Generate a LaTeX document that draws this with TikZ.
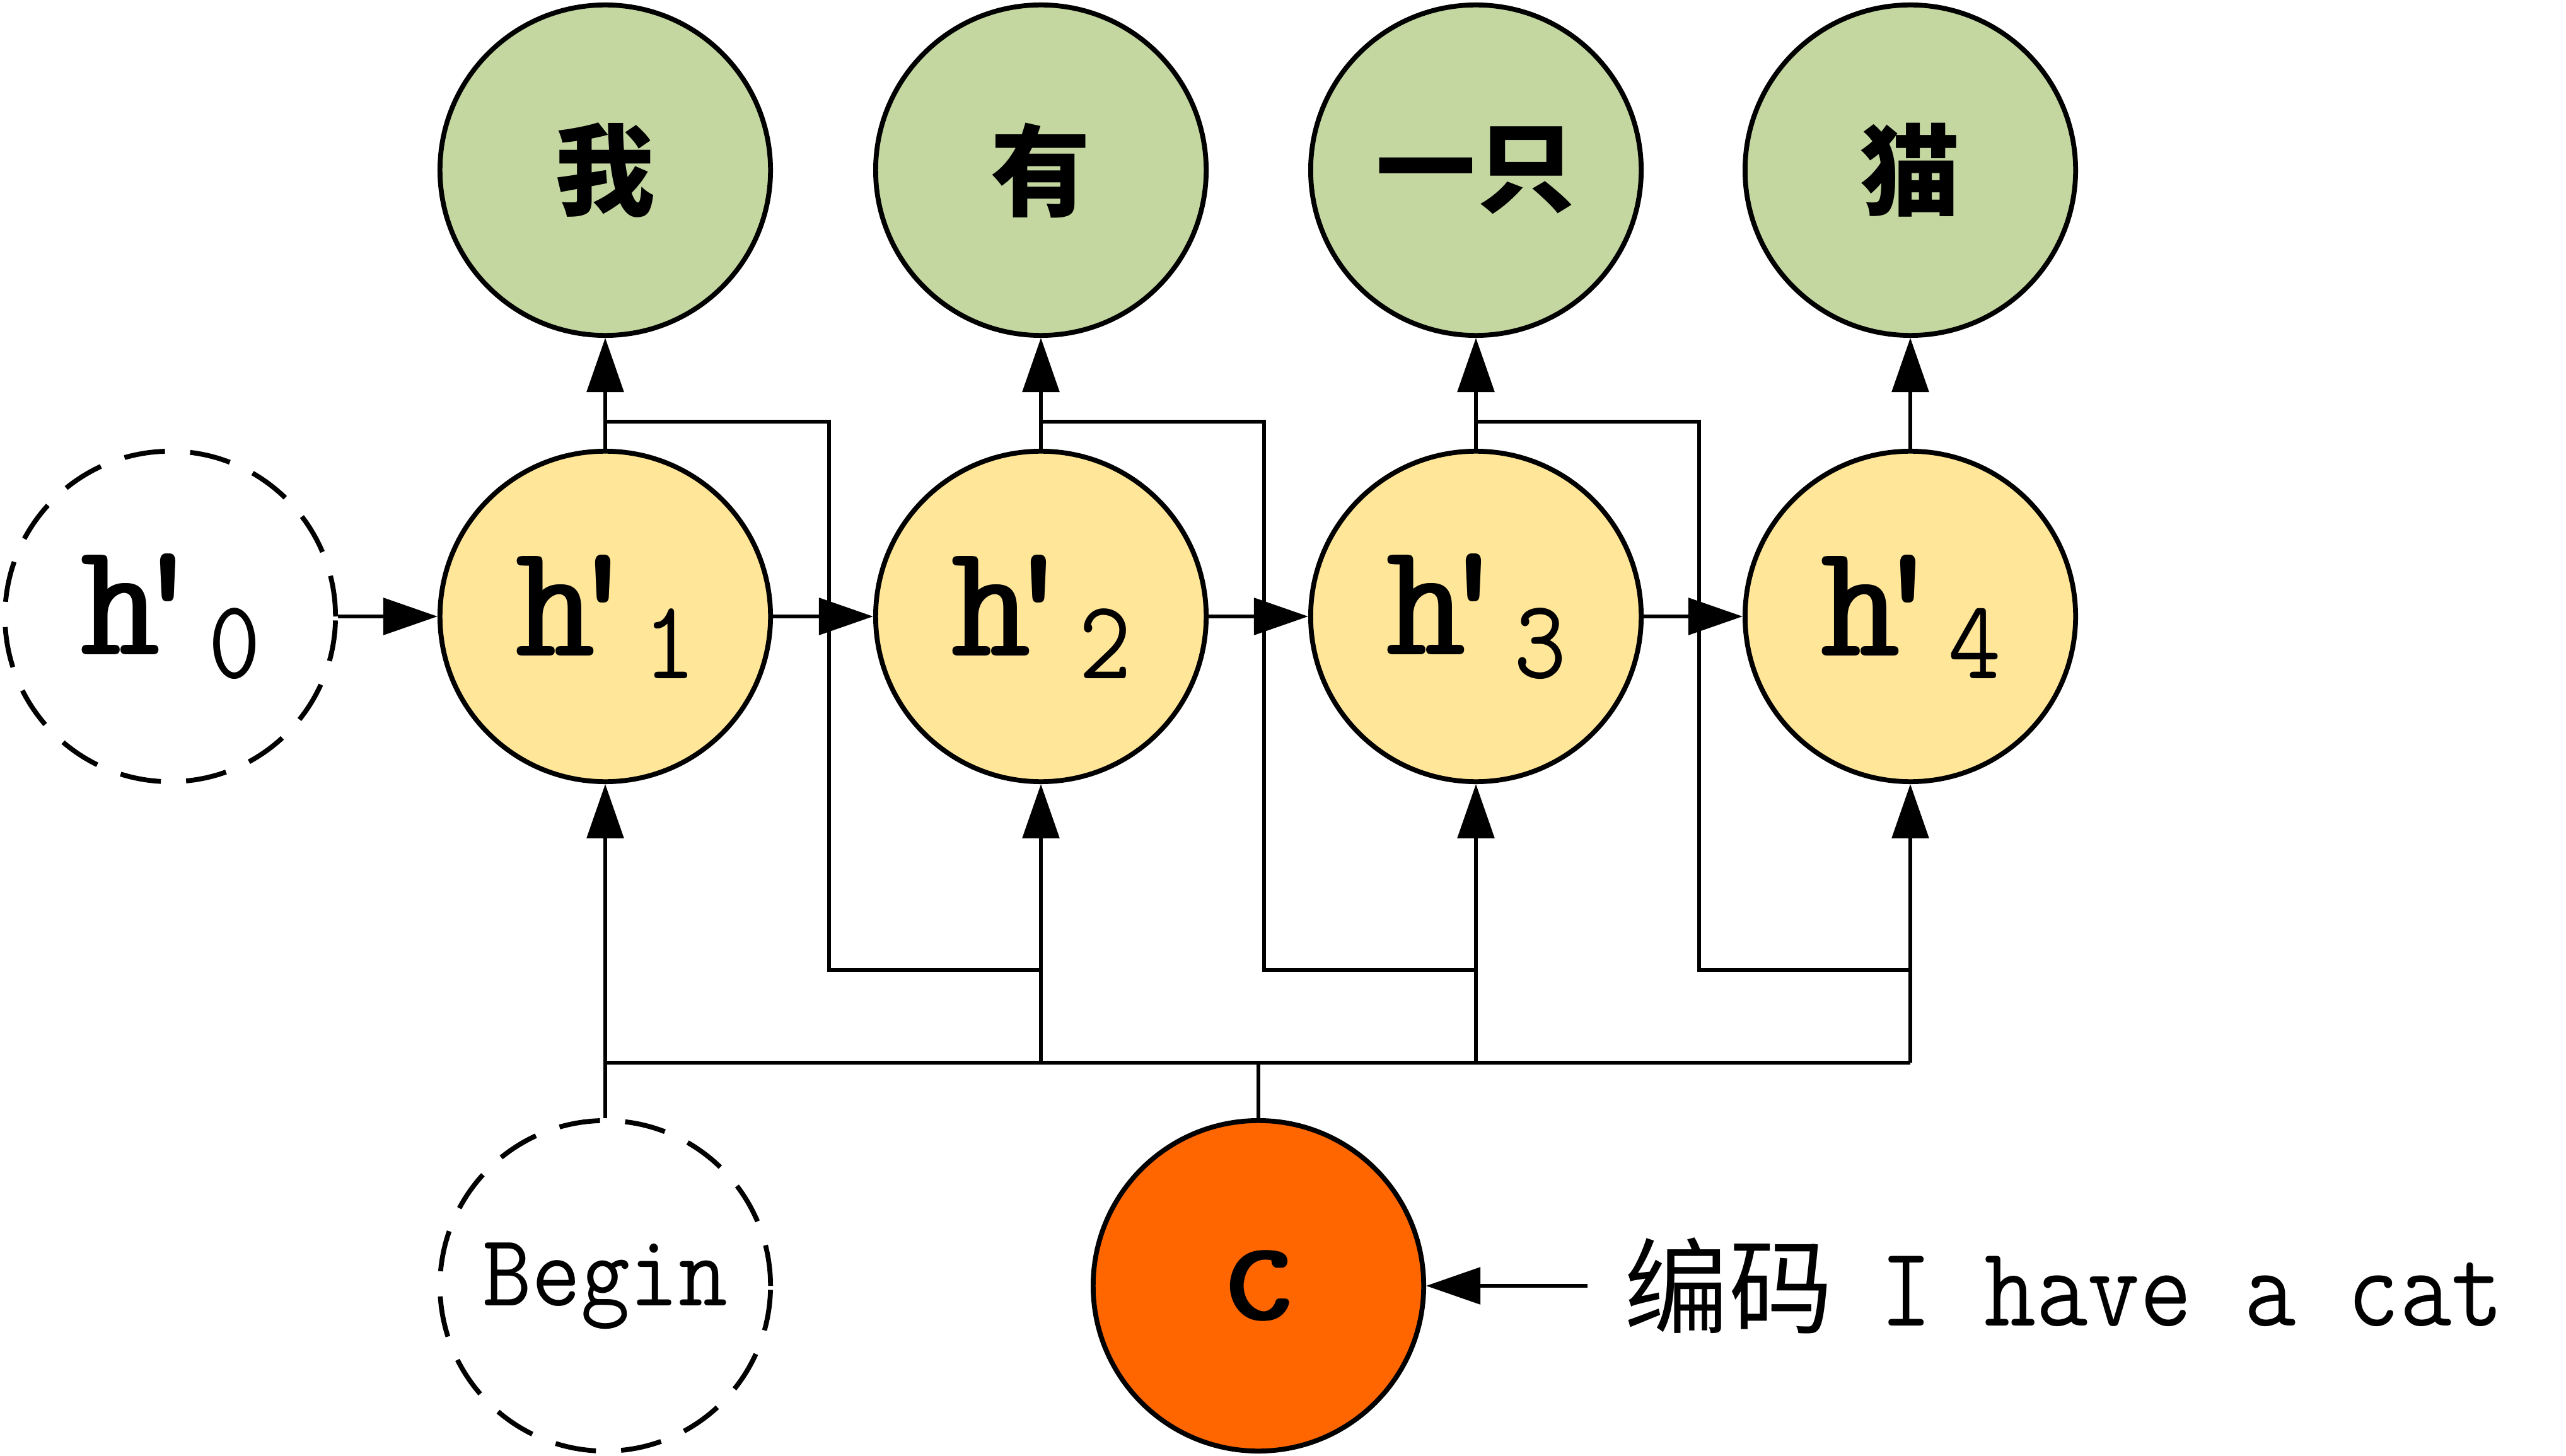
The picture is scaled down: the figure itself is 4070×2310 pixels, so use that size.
\documentclass[tikz,border=0pt]{standalone}
\usepackage{fontspec}
\newfontfamily\cjk{Noto Sans CJK SC}
\usetikzlibrary{arrows.meta}
\definecolor{gfill}{HTML}{C4D7A0}
\definecolor{yfill}{HTML}{FFE699}
\definecolor{ofill}{HTML}{FF6600}
\newcommand\fakebold[2]{\makebox[0pt][l]{#2}\kern#1\makebox[0pt][l]{#2}\kern#1#2}
\newcommand\hlab[1]{\scalebox{1}[1.08]{\fontsize{68}{68}\selectfont\fakebold{0.8pt}{h\kern-.2em\textquotesingle}}\kern-0.02em\raisebox{-0.36cm}{\scalebox{1}[1.1]{\fontsize{46}{46}\selectfont #1}}}
\begin{document}
\begin{tikzpicture}[x=0.01cm,y=-0.01cm,
  circ/.style={circle, draw, line width=2.2pt, minimum size=5.24cm, inner sep=0pt},
  outnode/.style={circ, fill=gfill, font=\cjk\bfseries\fontsize{45}{45}\selectfont},
  hidnode/.style={circ, fill=yfill, font=\ttfamily},
  dashnode/.style={circ, dash pattern=on 0.65cm off 0.4cm},
  conn/.style={line width=1.7pt},
  arr/.style={conn, -{Triangle[length=0.86cm,width=0.58cm]}}]
\useasboundingbox (0,0) rectangle (4070,2310);

% output nodes
\node[outnode] (g1) at (960,270) {我};
\node[outnode] (g2) at (1651,270) {有};
\node[outnode] (g3) at (2341,270) {一只};
\node[outnode] (g4) at (3030,270) {猫};

% hidden nodes
\node[dashnode, font=\ttfamily] (h0) at (270,978) {\hlab{0}};
\node[hidnode] (h1) at (960,978) {\hlab{1}};
\node[hidnode] (h2) at (1651,978) {\hlab{2}};
\node[hidnode] (h3) at (2341,978) {\hlab{3}};
\node[hidnode] (h4) at (3030,978) {\hlab{4}};

% bottom nodes
\node[dashnode, font=\ttfamily\fontsize{43}{43}\selectfont] (begin) at (960,2040) {\scalebox{1}[1.08]{Begin}};
\node[circ, fill=ofill, font=\ttfamily\fontsize{68}{68}\selectfont] (c) at (1996,2040) {\scalebox{0.95}[1.05]{\fakebold{1pt}{c}}};
\node[anchor=west, inner sep=0pt] (enc) at (2576,2040)
  {{\cjk\fontsize{47}{47}\selectfont 编码}\hspace{0.75cm}{\ttfamily\fontsize{45.5}{45.5}\selectfont\scalebox{1}[1.13]{I have a cat}}};
\coordinate (encw) at (2518,2040);

% coordinates
\coordinate (bus1) at (960,1686);
\coordinate (bus2) at (1651,1686);
\coordinate (bus3) at (2341,1686);
\coordinate (bus4) at (3030,1686);
\coordinate (busc) at (1996,1686);
\coordinate (k1) at (1315,669);
\coordinate (k2) at (2005,669);
\coordinate (k3) at (2695,669);
\coordinate (m2) at (1651,1539);
\coordinate (m3) at (2341,1539);
\coordinate (m4) at (3030,1539);

% bus
\draw[conn] (bus1) -- (bus4);
\draw[conn] (begin.north) -- (bus1);
\draw[conn] (c.north) -- (busc);

% inputs
\draw[arr] (bus1) -- (h1.south);
\draw[arr] (bus2) -- (h2.south);
\draw[arr] (bus3) -- (h3.south);
\draw[arr] (bus4) -- (h4.south);

% outputs
\draw[arr] (h1.north) -- (g1.south);
\draw[arr] (h2.north) -- (g2.south);
\draw[arr] (h3.north) -- (g3.south);
\draw[arr] (h4.north) -- (g4.south);

% recurrent
\draw[arr] (h0.east) -- (h1.west);
\draw[arr] (h1.east) -- (h2.west);
\draw[arr] (h2.east) -- (h3.west);
\draw[arr] (h3.east) -- (h4.west);

% feedback of outputs
\draw[conn] (h1.north) |- (k1) |- (m2);
\draw[conn] (h2.north) |- (k2) |- (m3);
\draw[conn] (h3.north) |- (k3) |- (m4);

% encoder input
\draw[arr] (encw) -- (c.east);
\end{tikzpicture}
\end{document}
